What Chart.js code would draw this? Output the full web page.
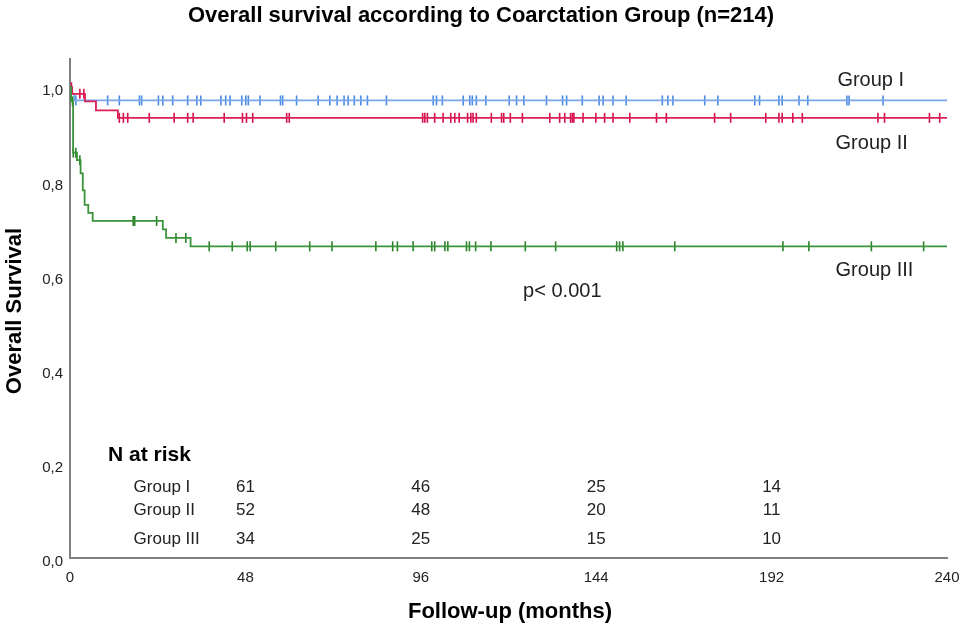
<!DOCTYPE html>
<html>
<head>
<meta charset="utf-8">
<script src="https://cdn.jsdelivr.net/npm/chart.js@4"></script>
<style>
    body { margin: 0; background: #fff; }
    canvas { display: block; }
</style>
</head>
<body>
<canvas id="myChart" width="960" height="630"></canvas>
<script>
// tick labels
const timeTicks = [0, 48, 96, 144, 192, 240];
const survTicks = [0, 0.2, 0.4, 0.6, 0.8, 1.0];

const groups = ['Group I', 'Group II', 'Group III'];

// Kaplan-Meier steps (months, survival)
const g1Times = [0, 0.3, 1.2, 240];
const g1Surv = [1, 0.986, 0.972, 0.972];

const g2Times = [0, 0.6, 4.1, 7.1, 13.1, 240];
const g2Surv = [1, 0.986, 0.970, 0.951, 0.935, 0.935];

const g3Times = [0, 0.3, 0.85, 1.9, 2.9, 3.5, 4.0, 5.0, 6.2, 25.4, 26.3, 33.0, 240];
const g3Surv = [1, 0.970, 0.861, 0.845, 0.817, 0.781, 0.750, 0.733, 0.716, 0.698, 0.680, 0.662, 0.662];

// censored observations (months)
const g1Censored = [1.6, 10.3, 13.5, 19.0, 19.6, 24.2, 25.4, 28.1, 32.2, 34.7, 35.8, 41.3, 42.6, 43.8, 47.0, 48.1, 48.8,
    52.0, 57.6, 58.2, 62.0, 67.9, 71.1, 73.1, 75.0, 76.1, 77.8, 79.6, 81.4, 86.6, 99.4, 100.3, 101.9, 107.6, 109.4,
    110.1, 111.2, 113.8, 120.2, 122.2, 124.2, 130.4, 134.8, 135.9, 140.2, 144.8, 145.9, 148.6, 152.2, 162.1, 163.6,
    165.0, 173.7, 177.3, 187.4, 188.7, 194.0, 194.9, 199.5, 201.9, 212.6, 213.2, 222.5];
const g2Censored = [0.4, 2.7, 3.8, 13.5, 14.6, 15.8, 21.7, 28.5, 32.2, 33.7, 42.2, 47.2, 48.3, 50.0, 59.3, 60.0, 96.5,
    97.1, 97.8, 99.8, 102.1, 104.2, 105.3, 106.5, 108.8, 109.7, 110.3, 111.2, 115.3, 118.1, 118.7, 120.5, 123.8, 131.3,
    134.0, 135.4, 137.0, 137.5, 137.9, 140.4, 143.9, 146.3, 148.6, 153.2, 160.5, 163.2, 176.4, 180.8, 190.4, 194.0,
    194.9, 197.8, 200.4, 221.1, 222.9, 235.2, 238.0];
const g3Censored = [0.7, 0.9, 1.6, 2.7, 17.3, 17.7, 23.7, 29.0, 31.7, 38.1, 44.4, 48.5, 49.3, 56.3, 65.6, 71.7, 83.7,
    88.3, 89.6, 93.9, 99.0, 99.8, 102.6, 103.4, 108.5, 109.3, 111.0, 115.2, 124.6, 132.9, 149.6, 150.4, 151.3, 165.5,
    195.1, 202.2, 219.3, 233.6];

// numbers at risk
const riskTimes = [48, 96, 144, 192];
const riskG1 = [61, 46, 25, 14];
const riskG2 = [52, 48, 20, 11];
const riskG3 = [34, 25, 15, 10];

const lineColors = ['#78a8ec', '#dc1f56', '#3b933b'];
const markColors = ['#4a8ae4', '#d6104a', '#2a832a'];

// survival of a step curve at time t
const survAt = (times, surv, t) =>
{
    let s = surv[0];
    for (let i = 0; i < times.length; i++)
    {
        if (times[i] <= t) s = surv[i];
    }
    return s;
}

const toPoints = (times, surv) => times.map((t, i) => ({ x: t, y: surv[i] }));
const toMarks = (cens, times, surv) => cens.map((t) => ({ x: t, y: survAt(times, surv, t) }));

const curves = [
    [g1Times, g1Surv, g1Censored],
    [g2Times, g2Surv, g2Censored],
    [g3Times, g3Surv, g3Censored]
];

let datasets = [];

for (let i = 0; i < curves.length; i++)
{
    datasets.push({
        label: groups[i],
        data: toPoints(curves[i][0], curves[i][1]),
        stepped: true,
        showLine: true,
        borderColor: lineColors[i],
        borderWidth: 1.8,
        pointRadius: 0,
        order: 2 - i
    });
    datasets.push({
        label: groups[i] + ' censored',
        data: toMarks(curves[i][2], curves[i][0], curves[i][1]),
        showLine: false,
        pointStyle: 'line',
        rotation: 90,
        radius: 5,
        borderColor: markColors[i],
        borderWidth: 1.6,
        order: 2 - i
    });
}

const fmt = (v) => v.toFixed(1).replace('.', ',');

const FONT = '"Liberation Sans", Arial, sans-serif';

const textPlugin =
{
    id: 'texts',
    afterDraw(chart)
    {
        const ctx = chart.ctx;
        const x = chart.scales.x;
        const y = chart.scales.y;
        const X = (v) => x.getPixelForValue(v);
        const Y = (v) => y.getPixelForValue(v);

        ctx.save();
        ctx.fillStyle = '#000';
        ctx.textBaseline = 'middle';

        ctx.font = 'bold 22px ' + FONT;
        ctx.textAlign = 'center';
        ctx.fillText('Overall survival according to Coarctation Group (n=214)', 481, 16);

        ctx.fillText('Follow-up (months)', 510, 612);

        ctx.save();
        ctx.translate(15, 311);
        ctx.rotate(-Math.PI / 2);
        ctx.fillText('Overall Survival', 0, 0);
        ctx.restore();

        ctx.textAlign = 'left';
        ctx.fillStyle = '#222';
        ctx.font = '20px ' + FONT;
        ctx.fillText(groups[0], X(210), Y(1.015));
        ctx.fillText(groups[1], X(209.5), Y(0.881));
        ctx.fillText(groups[2], X(209.5), Y(0.611));
        ctx.fillText('p< 0.001', X(124), Y(0.567));

        ctx.fillStyle = '#000';
        ctx.font = 'bold 21px ' + FONT;
        ctx.fillText('N at risk', X(10.4), Y(0.219));

        const rowY = [0.151, 0.102, 0.040];
        const rows = [riskG1, riskG2, riskG3];
        ctx.fillStyle = '#222';
        ctx.font = '17px ' + FONT;
        for (let r = 0; r < rows.length; r++)
        {
            ctx.textAlign = 'left';
            ctx.fillText(groups[r], X(17.4), Y(rowY[r]));
            ctx.textAlign = 'center';
            for (let k = 0; k < riskTimes.length; k++)
            {
                ctx.fillText(String(rows[r][k]), X(riskTimes[k]), Y(rowY[r]));
            }
        }
        ctx.restore();
    }
}

const ctx = document.getElementById('myChart');

new Chart(ctx,
{
    type: 'scatter',
    data: { datasets: datasets },
    plugins: [textPlugin],
    options:
    {
        responsive: false,
        animation: false,
        events: [],
        layout: { padding: { top: 59, right: 13, left: 0, bottom: 0 } },
        plugins:
        {
            legend: { display: false },
            tooltip: { enabled: false }
        },
        scales:
        {
            x:
            {
                type: 'linear',
                min: 0,
                max: 240,
                afterBuildTicks: (scale) => { scale.ticks = timeTicks.map((v) => ({ value: v })); },
                afterFit: (scale) => { scale.height = 72; scale.paddingLeft = 0; scale.paddingRight = 0; },
                grid: { display: false, drawTicks: false },
                border: { color: '#808080', width: 2 },
                ticks:
                {
                    color: '#222',
                    font: { family: FONT, size: 15 },
                    padding: 11,
                    maxRotation: 0,
                    autoSkip: false
                }
            },
            y:
            {
                min: 0,
                max: 1.06,
                afterBuildTicks: (scale) => { scale.ticks = survTicks.map((v) => ({ value: v })); },
                afterFit: (scale) => { scale.width = 70; scale.paddingTop = 0; scale.paddingBottom = 0; },
                grid: { display: false, drawTicks: false },
                border: { color: '#808080', width: 2 },
                ticks:
                {
                    color: '#222',
                    font: { family: FONT, size: 15 },
                    padding: 7,
                    labelOffset: 4,
                    callback: (v) => fmt(v)
                }
            }
        }
    }
});
</script>
</body>
</html>
